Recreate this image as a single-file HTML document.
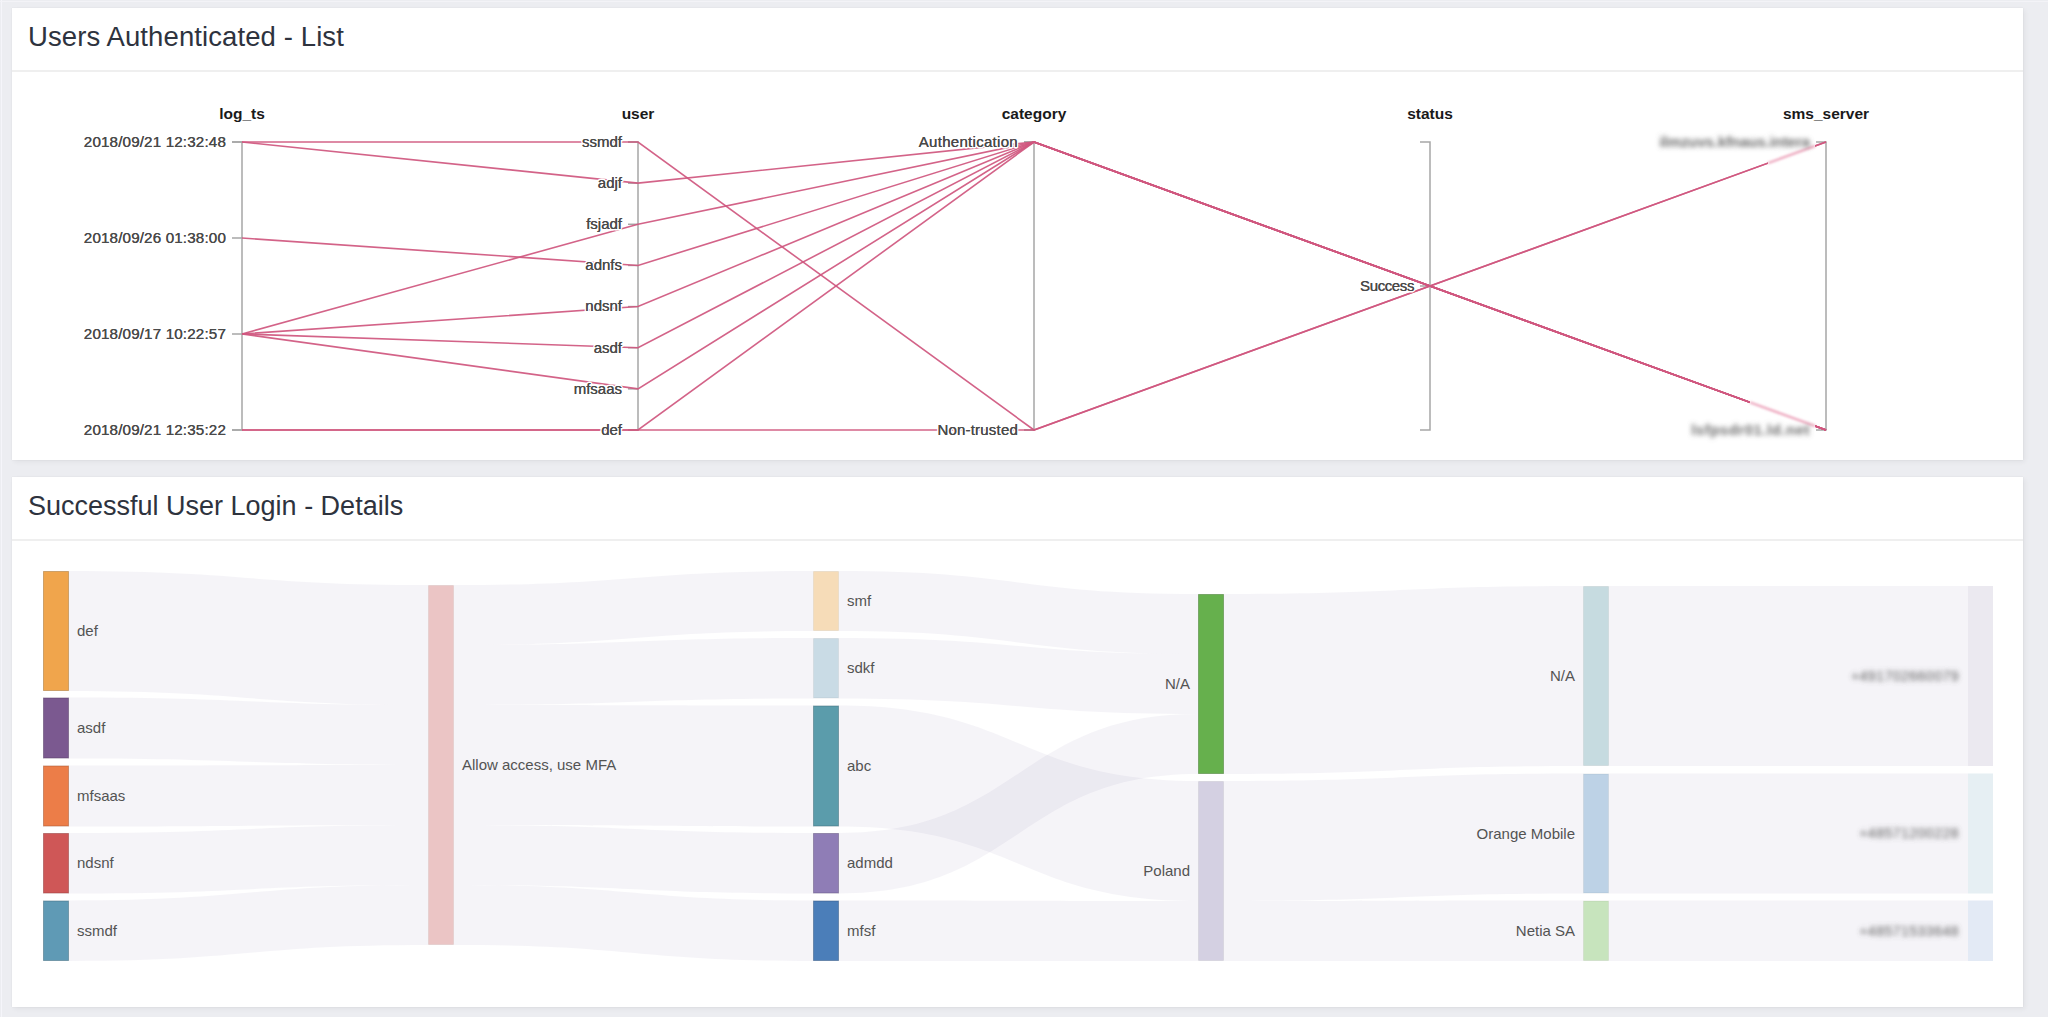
<!DOCTYPE html>
<html><head><meta charset="utf-8">
<style>
html,body{margin:0;padding:0;}
body{width:2048px;height:1017px;background:#ecedf1;position:relative;overflow:hidden;font-family:"Liberation Sans",sans-serif;}
.panel{position:absolute;left:12px;width:2011px;background:#fff;box-shadow:0 0 1px rgba(0,0,0,0.10), 2px 2px 5px rgba(0,0,0,0.05);}
.hdr{position:absolute;left:0;top:0;right:0;height:62px;border-bottom:2px solid #efefef;}
.ttlh{position:absolute;left:16px;font-size:27.5px;color:#2e333e;white-space:nowrap;}
svg{position:absolute;left:0;top:0;}
.pl path{fill:none;stroke:#d0577f;stroke-width:1.6;stroke-opacity:0.93;}
.ax path{fill:none;stroke:#a6a6a6;stroke-width:1.5;}
.lbl text{font-size:15px;fill:#4d4d4d;text-anchor:end;stroke:#fff;stroke-width:3px;paint-order:stroke;stroke-linejoin:round;}
.lbl2 text{font-size:15px;fill:#4a4a4a;text-anchor:end;stroke:#4a4a4a;stroke-width:0.1px;}
.ttl{font-size:15.5px;font-weight:bold;fill:#1a1a1a;text-anchor:middle;}
.lk path{fill:rgb(140,130,175);fill-opacity:0.085;}
.nl text{font-size:15px;fill:#535353;}
.blur{filter:url(#bl);}
.blur text{font-size:15px;fill:#6a6a6a;text-anchor:end;font-weight:bold;}
.blur2 text{font-size:14px;fill:#5a5a5a;text-anchor:end;}
</style></head><body>
<div style="position:absolute;left:1px;top:0;width:1px;height:1017px;background:#f5f5fa"></div><div style="position:absolute;left:0;top:1px;width:2048px;height:1px;background:#f3f3f7"></div>
<div class="panel" style="top:8px;height:452px;"><div class="hdr"><div class="ttlh" style="top:13px;letter-spacing:0.1px;">Users Authenticated - List</div></div></div>
<div class="panel" style="top:477px;height:530px;"><div class="hdr"><div class="ttlh" style="top:14px;font-size:27px;">Successful User Login - Details</div></div></div>
<svg width="2048" height="1017" viewBox="0 0 2048 1017">
<defs><filter id="bl" x="-20%" y="-50%" width="140%" height="200%"><feGaussianBlur stdDeviation="2.5"/></filter><filter id="bl3" x="-30%" y="-60%" width="160%" height="220%"><feGaussianBlur stdDeviation="1.3"/></filter><filter id="bl2" x="-20%" y="-50%" width="140%" height="200%"><feGaussianBlur stdDeviation="2.4"/></filter></defs>
<g class="ax"><path d="M232,142 H242 V430 H232"/>
<path d="M232,142 H242"/>
<path d="M232,238 H242"/>
<path d="M232,334 H242"/>
<path d="M232,430 H242"/>
<path d="M628,142 H638 V430 H628"/>
<path d="M628,142 H638"/>
<path d="M628,183.14 H638"/>
<path d="M628,224.29 H638"/>
<path d="M628,265.43 H638"/>
<path d="M628,306.57 H638"/>
<path d="M628,347.71 H638"/>
<path d="M628,388.86 H638"/>
<path d="M628,430 H638"/>
<path d="M1024,142 H1034 V430 H1024"/>
<path d="M1024,142 H1034"/>
<path d="M1024,430 H1034"/>
<path d="M1420,142 H1430 V430 H1420"/>
<path d="M1420,286 H1430"/>
<path d="M1816,142 H1826 V430 H1816"/></g>
<g class="pl"><path d="M242,142 L638,142 L1034,430 L1430,286 L1826,142"/>
<path d="M242,142 L638,183.14 L1034,142 L1430,286 L1826,430"/>
<path d="M242,238 L638,265.43 L1034,142 L1430,286 L1826,430"/>
<path d="M242,334 L638,224.29 L1034,142 L1430,286 L1826,430"/>
<path d="M242,334 L638,306.57 L1034,142 L1430,286 L1826,430"/>
<path d="M242,334 L638,347.71 L1034,142 L1430,286 L1826,430"/>
<path d="M242,334 L638,388.86 L1034,142 L1430,286 L1826,430"/>
<path d="M242,430 L638,430 L1034,142 L1430,286 L1826,430"/>
<path d="M242,430 L638,430 L1034,430 L1430,286 L1826,142"/></g>
<g class="lbl"><text x="226" y="146.9" style="font-size:15.2px;letter-spacing:0.15px">2018/09/21 12:32:48</text>
<text x="226" y="242.9" style="font-size:15.2px;letter-spacing:0.15px">2018/09/26 01:38:00</text>
<text x="226" y="338.9" style="font-size:15.2px;letter-spacing:0.15px">2018/09/17 10:22:57</text>
<text x="226" y="434.9" style="font-size:15.2px;letter-spacing:0.15px">2018/09/21 12:35:22</text>
<text x="622" y="146.9">ssmdf</text>
<text x="622" y="188.04">adjf</text>
<text x="622" y="229.19">fsjadf</text>
<text x="622" y="270.33">adnfs</text>
<text x="622" y="311.47">ndsnf</text>
<text x="622" y="352.61">asdf</text>
<text x="622" y="393.76">mfsaas</text>
<text x="622" y="434.9">def</text>
<text x="1018" y="146.9" style="letter-spacing:0.3px">Authentication</text>
<text x="1018" y="434.9" style="letter-spacing:0.2px">Non-trusted</text>
<text x="1414" y="290.9" style="letter-spacing:-0.4px">Success</text></g>
<g class="lbl2"><text x="226" y="146.9" style="font-size:15.2px;letter-spacing:0.15px">2018/09/21 12:32:48</text>
<text x="226" y="242.9" style="font-size:15.2px;letter-spacing:0.15px">2018/09/26 01:38:00</text>
<text x="226" y="338.9" style="font-size:15.2px;letter-spacing:0.15px">2018/09/17 10:22:57</text>
<text x="226" y="434.9" style="font-size:15.2px;letter-spacing:0.15px">2018/09/21 12:35:22</text>
<text x="622" y="146.9">ssmdf</text>
<text x="622" y="188.04">adjf</text>
<text x="622" y="229.19">fsjadf</text>
<text x="622" y="270.33">adnfs</text>
<text x="622" y="311.47">ndsnf</text>
<text x="622" y="352.61">asdf</text>
<text x="622" y="393.76">mfsaas</text>
<text x="622" y="434.9">def</text>
<text x="1018" y="146.9" style="letter-spacing:0.3px">Authentication</text>
<text x="1018" y="434.9" style="letter-spacing:0.2px">Non-trusted</text>
<text x="1414" y="290.9" style="letter-spacing:-0.4px">Success</text></g>
<text class="ttl" x="242" y="119">log_ts</text>
<text class="ttl" x="638" y="119">user</text>
<text class="ttl" x="1034" y="119">category</text>
<text class="ttl" x="1430" y="119">status</text>
<text class="ttl" x="1826" y="119">sms_server</text>
<rect x="1768" y="136" width="47" height="34" fill="#fff"/><rect x="1750" y="396" width="65" height="38" fill="#fff"/>
<g filter="url(#bl3)" stroke="#e0638c" stroke-width="2.6" stroke-opacity="0.5" fill="none"><path d="M1768,163.1 L1815,146"/><path d="M1750,402.4 L1815,426"/></g>
<g class="blur"><text x="1810" y="147" style="letter-spacing:-0.1px">ilmzuvs.kfnaus.intera</text><text x="1810" y="435" style="letter-spacing:0.5px">lsfpsdr01.ld.net</text></g>
<g class="lk"><path d="M69,571 C248.5,571 248.5,585 428,585 L428,705 C248.5,705 248.5,691 69,691 Z"/>
<path d="M69,697.5 C248.5,697.5 248.5,705 428,705 L428,765 C248.5,765 248.5,758.5 69,758.5 Z"/>
<path d="M69,765.5 C248.5,765.5 248.5,765 428,765 L428,825 C248.5,825 248.5,826.5 69,826.5 Z"/>
<path d="M69,833 C248.5,833 248.5,825 428,825 L428,885 C248.5,885 248.5,893.5 69,893.5 Z"/>
<path d="M69,900.5 C248.5,900.5 248.5,885 428,885 L428,945 C248.5,945 248.5,961 69,961 Z"/>
<path d="M454,585 C633.5,585 633.5,571 813,571 L813,631 C633.5,631 633.5,645 454,645 Z"/>
<path d="M454,645 C633.5,645 633.5,638 813,638 L813,698.5 C633.5,698.5 633.5,705 454,705 Z"/>
<path d="M454,705 C633.5,705 633.5,705.5 813,705.5 L813,826.5 C633.5,826.5 633.5,825 454,825 Z"/>
<path d="M454,825 C633.5,825 633.5,833 813,833 L813,893.5 C633.5,893.5 633.5,885 454,885 Z"/>
<path d="M454,885 C633.5,885 633.5,900.5 813,900.5 L813,961 C633.5,961 633.5,945 454,945 Z"/>
<path d="M839,571 C1018.5,571 1018.5,594 1198,594 L1198,654 C1018.5,654 1018.5,631 839,631 Z"/>
<path d="M839,638 C1018.5,638 1018.5,654 1198,654 L1198,714 C1018.5,714 1018.5,698.5 839,698.5 Z"/>
<path d="M839,705.5 C1018.5,705.5 1018.5,781 1198,781 L1198,901 C1018.5,901 1018.5,826.5 839,826.5 Z"/>
<path d="M839,833 C1018.5,833 1018.5,714 1198,714 L1198,774 C1018.5,774 1018.5,893.5 839,893.5 Z"/>
<path d="M839,900.5 C1018.5,900.5 1018.5,901 1198,901 L1198,961 C1018.5,961 1018.5,961 839,961 Z"/>
<path d="M1224,594 C1403.5,594 1403.5,586 1583,586 L1583,766 C1403.5,766 1403.5,774 1224,774 Z"/>
<path d="M1224,781 C1403.5,781 1403.5,773.5 1583,773.5 L1583,893.5 C1403.5,893.5 1403.5,901 1224,901 Z"/>
<path d="M1224,901 C1403.5,901 1403.5,900.5 1583,900.5 L1583,961 C1403.5,961 1403.5,961 1224,961 Z"/>
<path d="M1609,586 C1788.5,586 1788.5,586 1968,586 L1968,766 C1788.5,766 1788.5,766 1609,766 Z"/>
<path d="M1609,773.5 C1788.5,773.5 1788.5,773.5 1968,773.5 L1968,893.5 C1788.5,893.5 1788.5,893.5 1609,893.5 Z"/>
<path d="M1609,900.5 C1788.5,900.5 1788.5,900.5 1968,900.5 L1968,961 C1788.5,961 1788.5,961 1609,961 Z"/></g>
<g><rect x="43.5" y="571.5" width="25" height="119" fill="#f0a54c" stroke="#ac7636" stroke-opacity="0.55" stroke-width="1"/>
<rect x="43.5" y="698" width="25" height="60" fill="#7b5990" stroke="#584067" stroke-opacity="0.55" stroke-width="1"/>
<rect x="43.5" y="766" width="25" height="60" fill="#ec7d48" stroke="#a95a33" stroke-opacity="0.55" stroke-width="1"/>
<rect x="43.5" y="833.5" width="25" height="59.5" fill="#cf5757" stroke="#953e3e" stroke-opacity="0.55" stroke-width="1"/>
<rect x="43.5" y="901" width="25" height="59.5" fill="#5f9ab5" stroke="#446e82" stroke-opacity="0.55" stroke-width="1"/>
<rect x="428.5" y="585.5" width="25" height="359" fill="#ebc5c5" stroke="#a98d8d" stroke-opacity="0.2" stroke-width="1"/>
<rect x="813.5" y="571.5" width="25" height="59" fill="#f6dcb8" stroke="#b19e84" stroke-opacity="0.2" stroke-width="1"/>
<rect x="813.5" y="638.5" width="25" height="59.5" fill="#c9dbe5" stroke="#909da4" stroke-opacity="0.2" stroke-width="1"/>
<rect x="813.5" y="706" width="25" height="120" fill="#5b9cab" stroke="#41707b" stroke-opacity="0.55" stroke-width="1"/>
<rect x="813.5" y="833.5" width="25" height="59.5" fill="#8f7db6" stroke="#665a83" stroke-opacity="0.55" stroke-width="1"/>
<rect x="813.5" y="901" width="25" height="59.5" fill="#4b7eb9" stroke="#365a85" stroke-opacity="0.55" stroke-width="1"/>
<rect x="1198.5" y="594.5" width="25" height="179" fill="#66b04d" stroke="#497e37" stroke-opacity="0.55" stroke-width="1"/>
<rect x="1198.5" y="781.5" width="25" height="179" fill="#d4d0e2" stroke="#9895a2" stroke-opacity="0.2" stroke-width="1"/>
<rect x="1583.5" y="586.5" width="25" height="179" fill="#c6dbe0" stroke="#8e9da1" stroke-opacity="0.2" stroke-width="1"/>
<rect x="1583.5" y="774" width="25" height="119" fill="#bdd2e6" stroke="#8897a5" stroke-opacity="0.2" stroke-width="1"/>
<rect x="1583.5" y="901" width="25" height="59.5" fill="#c7e4bd" stroke="#8fa488" stroke-opacity="0.2" stroke-width="1"/>
<rect x="1968" y="586" width="25" height="180" fill="#ebe9f0"/>
<rect x="1968" y="773.5" width="25" height="120" fill="#e6eff3"/>
<rect x="1968" y="900.5" width="25" height="60.5" fill="#e3eaf5"/></g>
<g class="nl"><text x="77" y="636.2">def</text>
<text x="77" y="733.2">asdf</text>
<text x="77" y="801.2">mfsaas</text>
<text x="77" y="868.45">ndsnf</text>
<text x="77" y="935.95">ssmdf</text>
<text x="462" y="770.2">Allow access, use MFA</text>
<text x="847" y="606.2">smf</text>
<text x="847" y="673.45">sdkf</text>
<text x="847" y="771.2">abc</text>
<text x="847" y="868.45">admdd</text>
<text x="847" y="935.95">mfsf</text>
<text x="1190" y="689.2" text-anchor="end">N/A</text>
<text x="1190" y="876.2" text-anchor="end">Poland</text>
<text x="1575" y="681.2" text-anchor="end">N/A</text>
<text x="1575" y="838.7" text-anchor="end">Orange Mobile</text>
<text x="1575" y="935.95" text-anchor="end">Netia SA</text></g>
<g class="blur2" filter="url(#bl2)" style="letter-spacing:0.5px"><text x="1959" y="681">+491702660079</text><text x="1959" y="838">+48571200228</text><text x="1959" y="936">+48571533648</text></g>
</svg>
</body></html>
